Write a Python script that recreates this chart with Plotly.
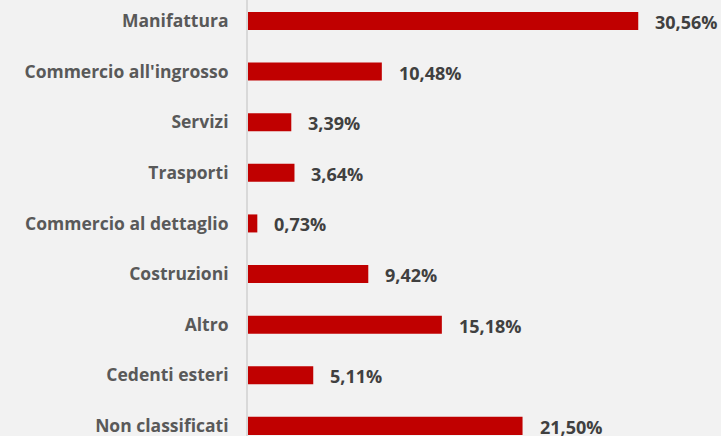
import plotly.graph_objects as go

categories = ["Manifattura", "Commercio all'ingrosso", "Servizi", "Trasporti",
              "Commercio al dettaglio", "Costruzioni", "Altro", "Cedenti esteri",
              "Non classificati"]
values = [30.56, 10.48, 3.39, 3.64, 0.73, 9.42, 15.18, 5.11, 21.50]
labels = [f"{v:.2f}%".replace(".", ",") for v in values]

FONT = "Open Sans"

fig = go.Figure()
fig.add_trace(go.Bar(
    y=categories, x=values, orientation="h",
    marker=dict(color="#C00000", line=dict(width=0)),
    width=0.356, hoverinfo="skip",
))

for c, v, t in zip(categories, values, labels):
    fig.add_annotation(x=v, y=c, text=f"<b>{t}</b>", showarrow=False,
                       xanchor="left", yanchor="middle", xshift=15, yshift=-1,
                       font=dict(family=FONT, size=18, color="#404040"))

fig.update_layout(
    width=721, height=436,
    margin=dict(l=248, r=0, t=0, b=0),
    paper_bgcolor="#F2F2F2", plot_bgcolor="#F2F2F2",
    showlegend=False,
    font=dict(family=FONT, size=17, color="#595959"),
)
fig.update_xaxes(range=[0, 37.04], visible=False, showgrid=False, zeroline=False)
fig.update_yaxes(
    type="category", categoryorder="array", categoryarray=categories,
    range=[8.20, -0.415],
    showline=True, linecolor="#D9D9D9", linewidth=2,
    showgrid=False, zeroline=False, ticks="",
    ticklabelstandoff=14,
    tickfont=dict(family=FONT, size=17.5, color="#595959", weight="bold"),
)

fig.write_html("out.html", config={"displayModeBar": False},
               post_script="document.body.style.margin='0';document.body.style.background='#F2F2F2';")
